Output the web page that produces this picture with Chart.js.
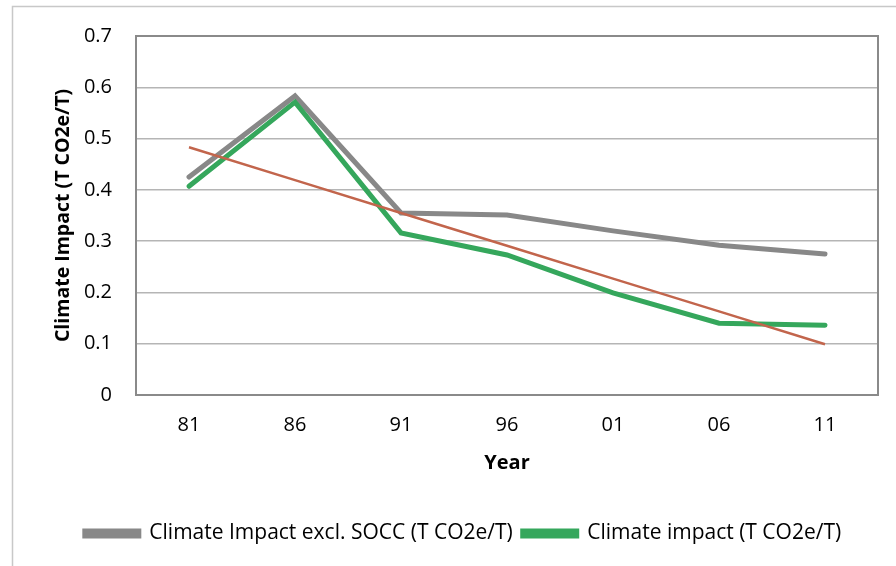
<!DOCTYPE html>
<html>
<head>
<meta charset="utf-8">
<script src="https://cdn.jsdelivr.net/npm/chart.js@4.4.0/dist/chart.umd.min.js"></script>
<style>
  html, body { margin: 0; padding: 0; background: #fff; }
  #wrap { width: 896px; height: 566px; }
</style>
</head>
<body>
<div id="wrap"><canvas id="myChart" width="896" height="566"></canvas></div>
<script>
// valores
const anos = ["81", "86", "91", "96", "01", "06", "11"];
const impactoSemSocc = [0.425, 0.583, 0.355, 0.351, 0.32, 0.292, 0.275];
const impactoClima = [0.407, 0.571, 0.316, 0.273, 0.199, 0.14, 0.136];
const tendencia = [0.483, 0.419, 0.355, 0.291, 0.227, 0.163, 0.099];
const ticksY = [0, 0.1, 0.2, 0.3, 0.4, 0.5, 0.6, 0.7];

const fonte = "'Open Sans', sans-serif";

// moldura externa e borda da área do gráfico
const molduras = {
  id: "molduras",
  afterDraw(chart) {
    const ctx = chart.ctx;
    const a = chart.chartArea;
    ctx.save();
    ctx.strokeStyle = "#c8c8c8";
    ctx.lineWidth = 1.5;
    ctx.strokeRect(12.5, 6.5, 900, 600);
    ctx.strokeStyle = "#8a8a8a";
    ctx.lineWidth = 2;
    ctx.strokeRect(a.left, a.top, a.right - a.left, a.bottom - a.top);
    ctx.restore();
  },
};

const ctx = document.getElementById("myChart").getContext("2d");

window.myChart = new Chart(ctx, {
  type: "line",
  data: {
    labels: anos,
    datasets: [
      {
        label: "Climate Impact excl. SOCC (T CO2e/T)",
        data: impactoSemSocc,
        borderColor: "#888888",
        backgroundColor: "#888888",
        borderWidth: 5,
        pointRadius: 0,
        borderCapStyle: "round",
        tension: 0,
        order: 3,
      },
      {
        label: "Climate impact (T CO2e/T)",
        data: impactoClima,
        borderColor: "#35a75c",
        backgroundColor: "#35a75c",
        borderWidth: 5,
        pointRadius: 0,
        borderCapStyle: "round",
        tension: 0,
        order: 2,
      },
      {
        label: "trend",
        data: tendencia,
        borderColor: "#c2654c",
        backgroundColor: "#c2654c",
        borderWidth: 2.5,
        pointRadius: 0,
        tension: 0,
        order: 1,
      },
    ],
  },
  options: {
    responsive: false,
    animation: false,
    layout: { padding: { top: 36, right: 18, left: 48, bottom: 12 } },
    plugins: {
      tooltip: { enabled: false },
      legend: {
        position: "bottom",
        labels: {
          filter: (item) => item.text !== "trend",
          sort: (a, b) => a.datasetIndex - b.datasetIndex,
          color: "#000",
          font: { family: fonte, size: 21 },
          boxWidth: 54,
          boxHeight: 5,
          padding: 10,
        },
      },
    },
    scales: {
      x: {
        offset: true,
        grid: { display: false, drawTicks: false },
        border: { color: "#8a8a8a", width: 2 },
        ticks: { color: "#000", font: { family: fonte, size: 20 }, padding: 18 },
        title: {
          display: true,
          text: "Year",
          color: "#000",
          font: { family: fonte, size: 20, weight: "bold" },
          padding: { top: 4, bottom: 38 },
        },
        afterFit: (s) => { s.height = 118; },
      },
      y: {
        min: 0,
        max: 0.7,
        afterBuildTicks: (s) => { s.ticks = ticksY.map((v) => ({ value: v })); },
        grid: { color: "#b5b5b5", lineWidth: 1.5, drawTicks: false },
        border: { color: "#8a8a8a", width: 2 },
        ticks: {
          color: "#000",
          font: { family: fonte, size: 20 },
          padding: 24,
          callback: (v) => String(v),
        },
        title: {
          display: true,
          text: "Climate Impact (T CO2e/T)",
          color: "#000",
          font: { family: fonte, size: 19.5, weight: "bold" },
        },
        afterFit: (s) => { s.width = 88; },
      },
    },
  },
  plugins: [molduras],
});
</script>
</body>
</html>
